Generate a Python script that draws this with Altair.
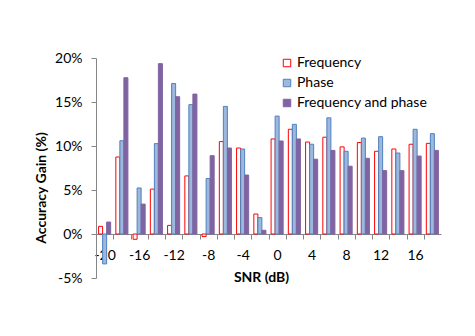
import altair as alt
import pandas as pd

snr = list(range(-20, 20, 2))
series = ["Frequency", "Phase", "Frequency and phase"]
freq = [0.87, 8.75, -0.6, 5.1, 0.98, 6.6, -0.3, 10.5, 9.77, 2.27,
        10.8, 11.9, 10.45, 11.0, 9.9, 10.4, 9.4, 9.66, 10.2, 10.3]
phase = [-3.4, 10.6, 5.23, 10.27, 17.1, 14.7, 6.3, 14.5, 9.66, 1.86,
         13.4, 12.46, 10.2, 13.2, 9.4, 10.9, 11.06, 9.2, 11.9, 11.4]
both = [1.36, 17.76, 3.4, 19.36, 15.6, 15.9, 8.9, 9.77, 6.7, 0.42,
        10.57, 10.8, 8.5, 9.5, 7.7, 8.6, 7.2, 7.2, 8.86, 9.5]
y_ticks = [-0.05, 0.0, 0.05, 0.10, 0.15, 0.20]

rows = []
for name, vals in zip(series, [freq, phase, both]):
    for s, v in zip(snr, vals):
        rows.append({"snr": s, "series": name, "gain": v / 100.0})
df = pd.DataFrame(rows)

fills = ["#FFFFFF", "#9DB8DC", "#8064A2"]
strokes = ["#FF0000", "#4F81BD", "#8064A2"]
grey = "#868686"

step = 345 / 20.0

chart = alt.Chart(df).mark_bar(strokeWidth=1).encode(
    x=alt.X(
        "snr:O",
        title="SNR (dB)",
        scale=alt.Scale(paddingInner=0.3, paddingOuter=0.15),
        axis=alt.Axis(
            offset=-44,
            bandPosition=0,
            tickOffset=-0.15 * step,
            labelOffset=0.15 * step,
            labelAngle=0,
            labelExpr="datum.value % 4 == 0 ? '' + datum.value : ''",
            labelPadding=9,
            tickSize=5,
            tickColor=grey,
            domainColor=grey,
            titleX=165,
            titleY=43,
            titleBaseline="middle",
        ),
    ),
    xOffset=alt.XOffset("series:N", sort=series, scale=alt.Scale(paddingInner=0, paddingOuter=0)),
    y=alt.Y(
        "gain:Q",
        title="Accuracy Gain (%)",
        scale=alt.Scale(domain=[-0.05, 0.2], nice=False, zero=False),
        axis=alt.Axis(
            values=y_ticks,
            labelExpr="round(datum.value * 100) + '%'",
            grid=False,
            tickSize=5,
            tickColor=grey,
            domainColor=grey,
            labelPadding=9,
            titleX=-55,
            titleY=129.5,
            titleAngle=-90,
            titleBaseline="middle",
            titleAlign="center",
        ),
    ),
    fill=alt.Fill(
        "series:N",
        sort=series,
        scale=alt.Scale(domain=series, range=fills),
        legend=alt.Legend(
            title=None,
            orient="none",
            legendX=184,
            legendY=-2,
            symbolType="square",
            symbolSize=56,
            symbolStrokeWidth=1,
            labelFontSize=14,
            labelColor="#000000",
            labelOffset=3,
            rowPadding=6,
            padding=0,
        ),
    ),
    stroke=alt.Stroke(
        "series:N",
        sort=series,
        scale=alt.Scale(domain=series, range=strokes),
    ),
).properties(
    width=345,
    height=220,
    autosize=alt.AutoSizeParams(type="none"),
    padding={"left": 88, "top": 50, "right": 26, "bottom": 50},
    background="white",
).configure(
    font="Lato",
).configure_view(
    stroke=None,
).configure_axis(
    labelFont="Lato",
    labelFontSize=14,
    labelColor="#000000",
    titleFont="Lato",
    titleFontSize=14,
    titleFontWeight="bold",
    titleColor="#000000",
).configure_legend(
    labelFont="Lato",
)

chart.save("out.html", embed_options={"renderer": "svg", "actions": False})
